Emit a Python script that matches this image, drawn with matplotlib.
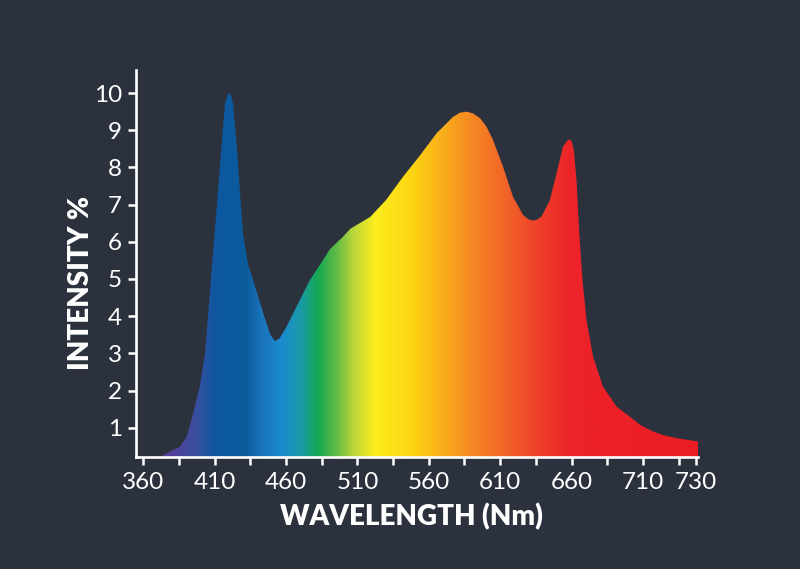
import numpy as np
import matplotlib
matplotlib.use("Agg")
import matplotlib.pyplot as plt
from matplotlib.colors import LinearSegmentedColormap
from matplotlib.patches import Polygon

# spectrum (x in the chart's axis units)
wavelength = [372, 378.7, 385.7, 390.4, 395, 399.5, 403.3, 407.4, 411.6, 415.7, 417.2,
              419, 420.3, 421.8, 423, 425.8, 427.7, 430, 433.5, 439.4, 445.2, 449, 452.2,
              455.5, 460.4, 467.4, 476.7, 486, 490.7, 500, 505, 519, 530, 542, 554, 565.5,
              577, 581.8, 586.5, 591.1, 596, 600.5, 605, 612, 619, 626.1, 630, 633.1, 636,
              639, 644.8, 649.5, 654.1, 657, 658.8, 660.3, 661.6, 663.5, 665.3, 667.7,
              670.5, 675.1, 682.1, 691.5, 700.8, 707.8, 717, 725.3, 733.5, 748.6]
intensity = [0.215, 0.36, 0.49, 0.76, 1.39, 2.1, 3.0, 5.0, 7.0, 9.0, 9.7,
             9.95, 10.0, 9.9, 9.68, 8.42, 7.35, 6.18, 5.38, 4.66, 3.94, 3.5, 3.33,
             3.4, 3.72, 4.26, 4.97, 5.51, 5.8, 6.14, 6.35, 6.67, 7.12, 7.75, 8.33, 8.92,
             9.36, 9.47, 9.50, 9.45, 9.32, 9.09, 8.74, 8.02, 7.21, 6.72, 6.6, 6.57, 6.6,
             6.68, 7.12, 7.84, 8.56, 8.72, 8.76, 8.68, 8.47, 7.66, 6.32, 4.97,
             3.90, 2.91, 2.10, 1.57, 1.30, 1.08, 0.90, 0.79, 0.72, 0.63]

x_ticks = [360, 410, 460, 510, 560, 610, 660, 710, 747]
x_labels = ["360", "410", "460", "510", "560", "610", "660", "710", "730"]
x_minor = [385, 435, 485, 535, 585, 635, 685, 735]
y_ticks = [1, 2, 3, 4, 5, 6, 7, 8, 9, 10]

# colour stops along x
stop_x = [355, 372, 396, 410, 431, 443, 456, 470, 482, 494, 508, 522, 547, 568,
          589, 610, 638, 659, 749]
stop_c = ["#5b3b96", "#5b3b96", "#3a4f9f", "#0e57a0", "#0a5c9c", "#1b75bb", "#1b8ad0",
          "#1a9aa6", "#16a853", "#5bb947", "#bfd73a", "#fbed1e", "#fdd712", "#f9b21a",
          "#f68a22", "#f26a27", "#ee3f2b", "#ec2429", "#ec1c24"]

bg = "#2b323e"
xmin, xmax = 354.9, 748.6
ymin, ymax = 0.215, 10.62

fig = plt.figure(figsize=(8, 5.69), dpi=100, facecolor=bg)
ax = fig.add_axes([0.17, 0.197, 0.7025, 0.68])
ax.set_facecolor(bg)

pos = [(v - xmin) / (xmax - xmin) for v in stop_x]
pos[0] = 0.0
pos[-1] = 1.0
cmap = LinearSegmentedColormap.from_list("spec", list(zip(pos, stop_c)))

pts = [(wavelength[0], ymin)] + list(zip(wavelength, intensity)) + [(wavelength[-1], ymin)]
shape = Polygon(pts, closed=True, facecolor="none", edgecolor="none")
ax.add_patch(shape)

grad = np.linspace(0, 1, 800).reshape(1, -1)
im = ax.imshow(grad, extent=[xmin, xmax, ymin, ymax], aspect="auto", cmap=cmap,
               origin="lower", interpolation="bilinear")
im.set_clip_path(shape)

ax.set_xlim(xmin, xmax)
ax.set_ylim(ymin, ymax)

for s in ["top", "right"]:
    ax.spines[s].set_visible(False)
for s in ["left", "bottom"]:
    ax.spines[s].set_color("white")
    ax.spines[s].set_linewidth(1.9)

ax.set_xticks(x_ticks)
ax.set_xticklabels(x_labels)
ax.set_xticks(x_minor, minor=True)
ax.set_yticks(y_ticks)
ax.tick_params(which="both", direction="out", length=6, width=1.8, color="white")
ax.tick_params(axis="x", which="major", pad=5, labelsize=17.5, labelcolor="white")
ax.tick_params(axis="y", which="major", pad=4, labelsize=17.5, labelcolor="white")
for lab in ax.get_xticklabels() + ax.get_yticklabels():
    lab.set_fontfamily("Lato")

fig.text(411 / 800, 1 - 517 / 569, "WAVELENGTH (Nm)", ha="center", va="center",
         color="white", fontsize=20, fontweight="heavy", family="Lato")
fig.text(81 / 800, 1 - 283 / 569, "INTENSITY %", ha="center", va="center", rotation=90,
         color="white", fontsize=20, fontweight="heavy", family="Lato")

fig.savefig("out.png", dpi=100, facecolor=bg)
